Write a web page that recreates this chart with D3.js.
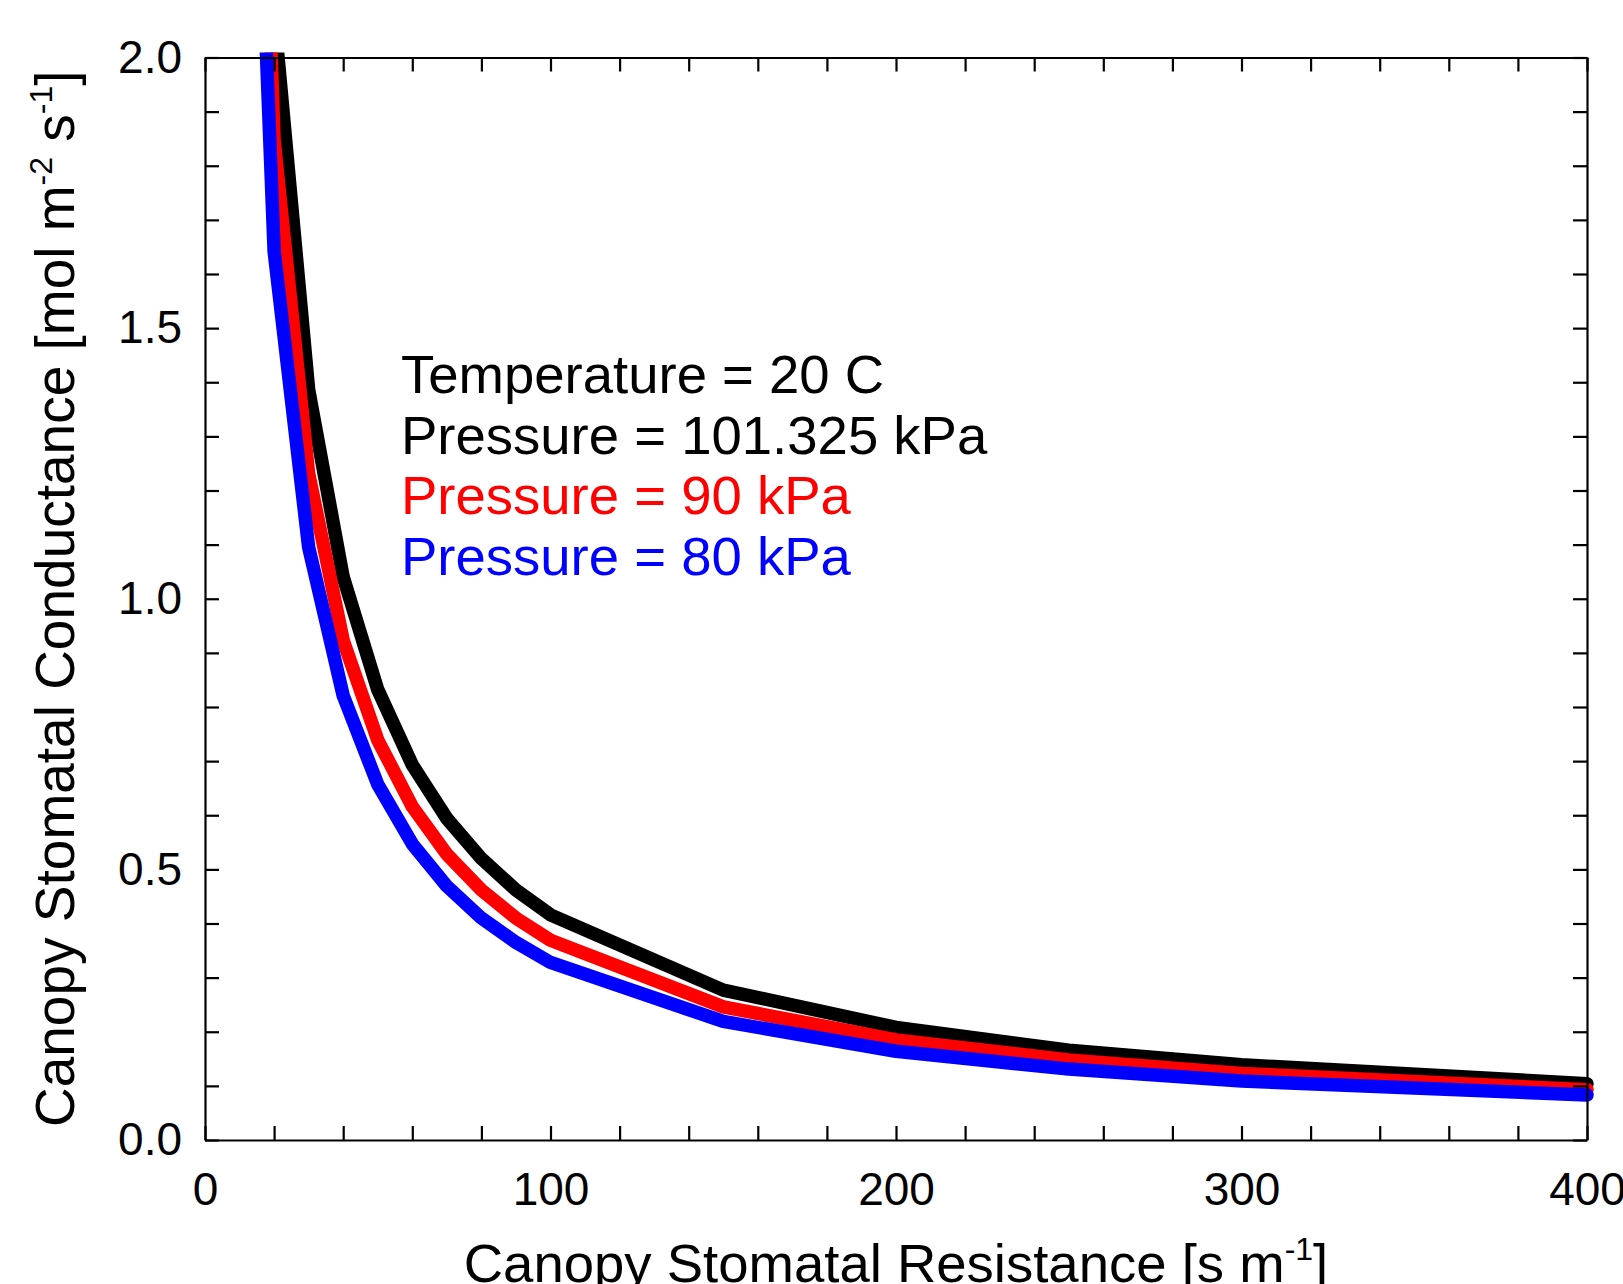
<!DOCTYPE html>
<html>
<head>
<meta charset="utf-8">
<script src="https://cdn.jsdelivr.net/npm/d3@7"></script>
<style>
  body { margin: 0; background: #fff; }
  svg { display: block; font-family: "Liberation Sans", Arial, sans-serif; }
  .axis path, .axis line { stroke: #000; stroke-width: 2.2; }
</style>
</head>
<body>
<svg></svg>
<script>
// canopy stomatal resistance [s m-1]
const resistance = [10, 20, 30, 40, 50, 60, 70, 80, 90, 100, 150, 200, 250, 300, 400];
// conductance [mol m-2 s-1]
const cond101 = [4.16, 2.08, 1.386, 1.04, 0.832, 0.693, 0.594, 0.52, 0.462, 0.416, 0.277, 0.208, 0.166, 0.139, 0.104];
const cond90  = [3.69, 1.847, 1.231, 0.923, 0.739, 0.616, 0.528, 0.462, 0.41, 0.369, 0.246, 0.185, 0.148, 0.123, 0.093];
const cond80  = [3.28, 1.642, 1.095, 0.821, 0.657, 0.547, 0.469, 0.41, 0.365, 0.328, 0.219, 0.164, 0.131, 0.109, 0.083];
const seriesColors = ["#000000", "#ff0000", "#0000ff"];
const legendLines = ["Temperature = 20 C", "Pressure = 101.325 kPa", "Pressure = 90 kPa", "Pressure = 80 kPa"];
const legendColors = ["#000000", "#000000", "#ff0000", "#0000ff"];
const xTicks = d3.range(0, 401, 20);
const yTicks = d3.range(0, 2.001, 0.1).map(d => +d.toFixed(1));

const W = 1623, H = 1284;
const margin = { top: 57.5, right: 36, bottom: 144, left: 205 };
const width = W - margin.left - margin.right;
const height = H - margin.top - margin.bottom;

const svg = d3.select("svg")
    .attr("width", W)
    .attr("height", H);

svg.append("rect").attr("width", W).attr("height", H).attr("fill", "#fff");

const g = svg.append("g")
    .attr("transform", `translate(${margin.left},${margin.top})`);

const x = d3.scaleLinear().domain([0, 400]).range([0, width]);
const y = d3.scaleLinear().domain([0, 2]).range([height, 0]);

g.append("clipPath").attr("id", "plotclip")
    .append("rect")
    .attr("x", 0).attr("y", -5)
    .attr("width", width + 10).attr("height", height + 5);

const series = [cond101, cond90, cond80];
const line = d3.line()
    .x((d, i) => x(resistance[i]))
    .y(d => y(d));

g.append("g").attr("clip-path", "url(#plotclip)")
    .selectAll("path")
    .data(series)
    .enter()
    .append("path")
    .attr("d", line)
    .attr("fill", "none")
    .attr("stroke", (d, i) => seriesColors[i])
    .attr("stroke-width", 13.5)
    .attr("stroke-linejoin", "round")
    .attr("stroke-linecap", "round");

// axes, ticks pointing inward on all four sides
const xAxis = d3.axisBottom(x)
    .tickValues(xTicks)
    .tickSize(-14).tickSizeOuter(0).tickPadding(32)
    .tickFormat(d => d % 100 === 0 ? d : "");
const yAxis = d3.axisLeft(y)
    .tickValues(yTicks)
    .tickSize(-14).tickSizeOuter(0).tickPadding(23)
    .tickFormat(d => Math.abs(d * 2 - Math.round(d * 2)) < 1e-6 ? d3.format(".1f")(d) : "");

g.append("g").attr("class", "axis")
    .attr("transform", `translate(0,${height})`)
    .call(xAxis)
    .call(a => a.selectAll("text").attr("font-size", 46).attr("fill", "#000"));

g.append("g").attr("class", "axis")
    .call(yAxis)
    .call(a => a.selectAll("text").attr("font-size", 46).attr("fill", "#000"));

g.append("g").attr("class", "axis")
    .call(d3.axisTop(x).tickValues(xTicks).tickSize(-14).tickSizeOuter(0).tickFormat(""));

g.append("g").attr("class", "axis")
    .attr("transform", `translate(${width},0)`)
    .call(d3.axisRight(y).tickValues(yTicks).tickSize(-14).tickSizeOuter(0).tickFormat(""));

// axis titles
const xTitle = svg.append("text")
    .attr("x", margin.left + width / 2)
    .attr("y", 1282)
    .attr("text-anchor", "middle")
    .attr("font-size", 54.5);
xTitle.append("tspan").text("Canopy Stomatal Resistance [s m");
xTitle.append("tspan").attr("dy", -22).attr("font-size", 32).text("-1");
xTitle.append("tspan").attr("dy", 22).text("]");

const yTitle = svg.append("text")
    .attr("transform", `translate(74,${margin.top + height / 2}) rotate(-90)`)
    .attr("text-anchor", "middle")
    .attr("font-size", 55);
yTitle.append("tspan").text("Canopy Stomatal Conductance [mol m");
yTitle.append("tspan").attr("dy", -22).attr("font-size", 32).text("-2");
yTitle.append("tspan").attr("dy", 22).text(" s");
yTitle.append("tspan").attr("dy", -22).attr("font-size", 32).text("-1");
yTitle.append("tspan").attr("dy", 22).text("]");

// legend text
svg.append("g")
    .selectAll("text")
    .data(legendLines)
    .enter()
    .append("text")
    .attr("x", 401)
    .attr("y", (d, i) => 393 + i * 60.6)
    .attr("font-size", 54.5)
    .attr("fill", (d, i) => legendColors[i])
    .text(d => d);
</script>
</body>
</html>
